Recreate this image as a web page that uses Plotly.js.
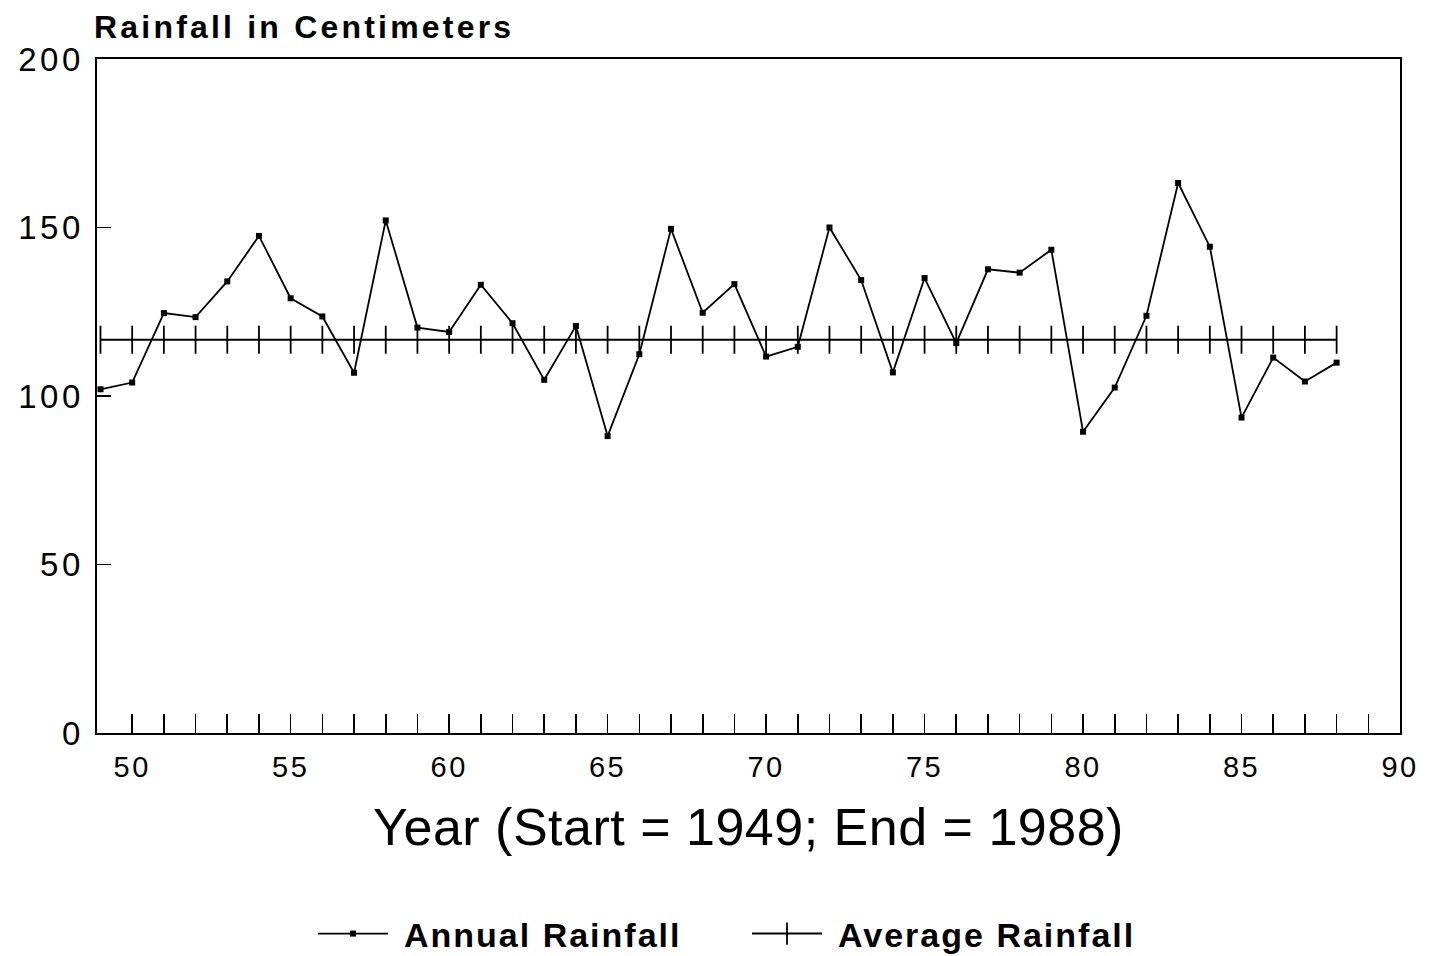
<!DOCTYPE html>
<html>
<head>
<meta charset="utf-8">
<script src="https://cdn.plot.ly/plotly-3.0.1.min.js"></script>
<style>
html,body{margin:0;padding:0;background:#fff;}
#chart{width:1429px;height:956px;}
#chart .gtitle{letter-spacing:3.2px;}
#chart .xtick text{letter-spacing:2.5px;}
#chart .ytick text{letter-spacing:3.5px;}
#chart .legendtext{letter-spacing:2px;transform:translateX(11px);}
#chart .g-xtitle text{letter-spacing:0.5px;}
</style>
</head>
<body>
<div id="chart"></div>
<script>
const years = [49,50,51,52,53,54,55,56,57,58,59,60,61,62,63,64,65,66,67,68,69,70,71,72,73,74,75,76,77,78,79,80,81,82,83,84,85,86,87,88];
const annualRainfall = [102.0,104.0,124.6,123.4,134.0,147.5,129.0,123.6,106.9,152.1,120.3,119.0,133.0,121.6,104.8,120.8,88.1,112.4,149.6,124.7,133.2,111.7,114.6,150.0,134.4,107.0,135.0,115.7,137.6,136.6,143.4,89.4,102.5,123.8,163.2,144.3,93.6,111.4,104.3,109.9];
const averageValue = 116.7;
const averageRainfall = years.map(() => averageValue);
const xTickVals = [50,51,52,53,54,55,56,57,58,59,60,61,62,63,64,65,66,67,68,69,70,71,72,73,74,75,76,77,78,79,80,81,82,83,84,85,86,87,88,89,90];
const xTickText = ["50","","","","","55","","","","","60","","","","","65","","","","","70","","","","","75","","","","","80","","","","","85","","","","","90"];
const yTickVals = [0,50,100,150,200];
const yTickText = ["0","50","100","150","200"];

const font = "Liberation Sans, Arial, Helvetica, sans-serif";

const traces = [
  {
    x: years, y: annualRainfall, name: "Annual Rainfall",
    type: "scatter", mode: "lines+markers",
    line: {color: "#000", width: 1.8},
    marker: {symbol: "square", size: 6, color: "#000"}
  },
  {
    x: years, y: averageRainfall, name: "Average Rainfall",
    type: "scatter", mode: "lines+markers",
    line: {color: "#000", width: 2},
    marker: {symbol: "line-ns", size: 20, line: {color: "#000", width: 1.8}}
  }
];

const layout = {
  width: 1429, height: 956,
  paper_bgcolor: "#fff", plot_bgcolor: "#fff",
  margin: {l: 97, r: 29, t: 59, b: 223},
  font: {family: font, color: "#000"},
  showlegend: true,
  title: {
    text: "<b>Rainfall in Centimeters</b>",
    font: {size: 32, family: font, color: "#000"},
    xref: "container", yref: "container",
    x: 94/1429, xanchor: "left",
    y: 1 - 27/956, yanchor: "middle"
  },
  xaxis: {
    range: [48.89, 90.0],
    tickmode: "array",
    tickvals: xTickVals, ticktext: xTickText,
    ticks: "inside", ticklen: 19, tickwidth: 1.6, tickcolor: "#000",
    showgrid: false, zeroline: false,
    showline: true, linecolor: "#000", linewidth: 1.6, mirror: true,
    tickfont: {size: 29, family: font, color: "#000"},
    ticklabelstandoff: 8,
    title: {text: "Year (Start = 1949; End = 1988)", font: {size: 52, family: font, color: "#000"}, standoff: 26},
    automargin: false
  },
  yaxis: {
    range: [0, 200],
    tickmode: "array",
    tickvals: yTickVals, ticktext: yTickText,
    ticks: "inside", ticklen: 14, tickwidth: 1.6, tickcolor: "#000",
    showgrid: false, zeroline: false,
    showline: true, linecolor: "#000", linewidth: 1.6, mirror: true,
    tickfont: {size: 33, family: font, color: "#000"},
    ticklabelstandoff: 5,
    automargin: false
  },
  legend: {
    orientation: "h",
    xref: "container", yref: "container",
    x: 313/1429, xanchor: "left",
    y: 1 - 934/956, yanchor: "middle",
    font: {size: 34, family: font, color: "#000", weight: "bold"},
    itemwidth: 70,
    entrywidth: 349,
    tracegroupgap: 0
  }
};

Plotly.newPlot("chart", traces, layout, {displayModeBar: false, staticPlot: true});
</script>
</body>
</html>
